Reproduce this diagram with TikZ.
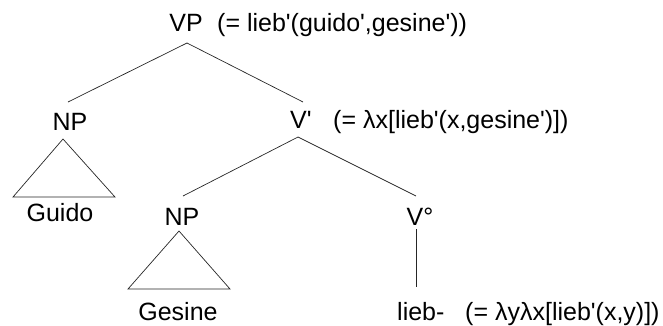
\documentclass[tikz,border=0pt]{standalone}
\usepackage{fontspec}
\setmainfont{Liberation Sans}[Ligatures=TeXOff]
\begin{document}
\begin{tikzpicture}[x=1pt,y=-1pt,
  lbl/.style={inner sep=0pt, anchor=base, font=\fontsize{25}{30}\selectfont},
  lblw/.style={inner sep=0pt, anchor=base west, font=\fontsize{25}{30}\selectfont},
  edge/.style={line width=0.7pt, black!85}]
\useasboundingbox (0,0) rectangle (663,325);
% labels
\node[lbl]  (vp)   at (186,31)   {VP};
\node[lblw] (vpa)  at (217,31)   {(= lieb'(guido',gesine'))};
\node[lbl]  (np1)  at (70,130)   {NP};
\node[lblw] (vb)   at (290,128)  {V'};
\node[lblw] (vba)  at (333,128)  {(= λx[lieb'(x,gesine')])};
\node[lbl]  (guido) at (60,221)  {Guido};
\node[lbl]  (np2)  at (182,225)  {NP};
\node[lblw] (v0)   at (406.5,225) {V°};
\node[lbl]  (ges)  at (178,320)  {Gesine};
\node[lblw] (lieb) at (397,320)  {lieb-};
\node[lblw] (lieba) at (465,320) {(= λyλx[lieb'(x,y)])};
% connector end points
\coordinate (vpB)  at (187,43);
\coordinate (np1T) at (68,102);
\coordinate (vbT)  at (303,102);
\coordinate (vbB)  at (298,137);
\coordinate (np2T) at (183,196);
\coordinate (v0T)  at (416,196);
\coordinate (v0B)  at (416,229);
\coordinate (liebT) at (416,287);
% branches
\draw[edge] (np1T) -- (vpB) -- (vbT);
\draw[edge] (np2T) -- (vbB) -- (v0T);
\draw[edge] (v0B) -- (liebT);
% triangles
\draw[edge] (63,139) -- (13,197) -- (115,197) -- cycle;
\draw[edge] (179,231) -- (128,289) -- (230,289) -- cycle;
\end{tikzpicture}
\end{document}
